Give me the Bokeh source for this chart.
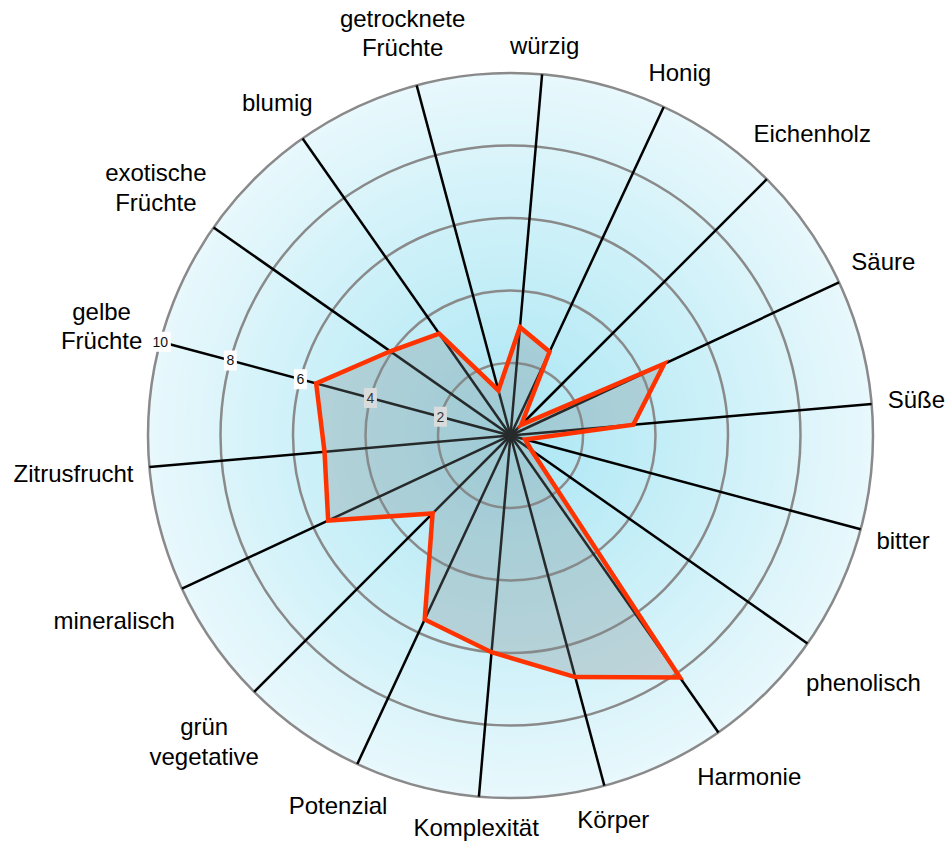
import math
import glob
import numpy as np
from bokeh.plotting import figure
from bokeh.models import Range1d
from bokeh.core.properties import value
from bokeh.embed import file_html
from bokeh.resources import INLINE

# ---------------- data ----------------
categories = ["Süße", "Säure", "Eichenholz", "Honig", "würzig",
              "getrocknete\nFrüchte", "blumig", "exotische\nFrüchte",
              "gelbe\nFrüchte", "Zitrusfrucht", "mineralisch",
              "grün\nvegetative", "Potenzial", "Komplexität", "Körper",
              "Harmonie", "phenolisch", "bitter"]
scores = [3.4, 4.68, 0.42, 2.55, 3.0, 1.29, 3.43, 4.05, 5.55, 5.15,
          5.55, 3.04, 5.6, 6.0, 6.9, 8.15, 0.7, 0.42]
tick_values = [2, 4, 6, 8, 10]
tick_labels = ["2", "4", "6", "8", "10"]
r_max = 10

# ---------------- layout / style ----------------
W, H = 949, 841
CX, CY = 510, 435          # centre of the radar in canvas pixels (from top-left)
PX = 36.25                 # pixels per value unit
FIRST_ANGLE = 5.0          # degrees, counter-clockwise from east
TICK_AXIS = 8              # index of the axis carrying the tick labels
FONT = "Liberation Sans"
LABEL_SIZE = 24
TICK_SIZE = 14

n = len(categories)
angles = np.radians(FIRST_ANGLE + 360.0 / n * np.arange(n))
cosa, sina = np.cos(angles), np.sin(angles)

p = figure(width=W, height=H, output_backend="svg", toolbar_location=None,
           x_range=Range1d(-CX / PX, (W - CX) / PX),
           y_range=Range1d(-(H - CY) / PX, CY / PX),
           x_axis_location=None, y_axis_location=None,
           min_border=0, outline_line_color=None,
           background_fill_color="white", border_fill_color="white")
p.grid.visible = False

# radial gradient background
inner = np.array([172, 231, 244])
outer = np.array([232, 248, 252])
steps = 70
rs = np.linspace(r_max, 0.05, steps)
cols = []
for r in rs:
    t = (r / r_max) ** 1.1
    c = inner + (outer - inner) * t
    cols.append("#%02x%02x%02x" % tuple(int(round(v)) for v in c))
p.circle(x=[0] * steps, y=[0] * steps, radius=rs, fill_color=cols,
         line_color=None)

# grid circles
p.circle(x=[0] * len(tick_values), y=[0] * len(tick_values),
         radius=tick_values, fill_color=None, line_color="#8a8a8a",
         line_width=2.5)

# spokes
p.segment(x0=[0] * n, y0=[0] * n, x1=r_max * cosa, y1=r_max * sina,
          line_color="black", line_width=2.5)

# tick labels on one axis
tv = np.array(tick_values, dtype=float)
tx = tv * cosa[TICK_AXIS]
ty = tv * sina[TICK_AXIS]
tw = [len(s) * 8 + 5 for s in tick_labels]
p.rect(x=tx, y=ty, width=tw, height=[20] * len(tv), width_units="screen",
       height_units="screen", fill_color="white", line_color=None)
p.text(x=tx, y=ty, text=tick_labels, text_align="center",
       text_baseline="middle", text_font=value(FONT),
       text_font_size=f"{TICK_SIZE}px", text_color="#111111")

# data polygon
sc = np.array(scores)
p.patch(x=sc * cosa, y=sc * sina, fill_color="#7f8c8d", fill_alpha=0.3,
        line_color=None)
p.patch(x=sc * cosa, y=sc * sina, fill_color=None, line_color="#ff3300",
        line_width=4.5, line_join="miter")


# category labels
def text_width(s, size):
    try:
        from PIL import ImageFont
        paths = glob.glob("/usr/share/fonts/**/LiberationSans-Regular.ttf",
                          recursive=True)
        f = ImageFont.truetype(paths[0], size)
        return max(f.getlength(line) for line in s.split("\n"))
    except Exception:
        return max(len(line) for line in s.split("\n")) * size * 0.52


R0 = 378.0
lx, ly = [], []
for lab, c, s in zip(categories, cosa, sina):
    w = text_width(lab, LABEL_SIZE)
    nl = lab.count("\n") + 1
    h = LABEL_SIZE * 0.85 + (nl - 1) * LABEL_SIZE * 1.1
    rad = (R0 + w / 2 * abs(c) + h / 2 * abs(s)) / PX
    lx.append(rad * c)
    ly.append(rad * s)
p.text(x=lx, y=ly, text=categories, text_align="center",
       text_baseline="middle", text_font=value(FONT),
       text_font_size=f"{LABEL_SIZE}px", text_color="black",
       text_line_height=1.1)

open("out.html", "w").write(file_html(p, INLINE, title="Radar"))
